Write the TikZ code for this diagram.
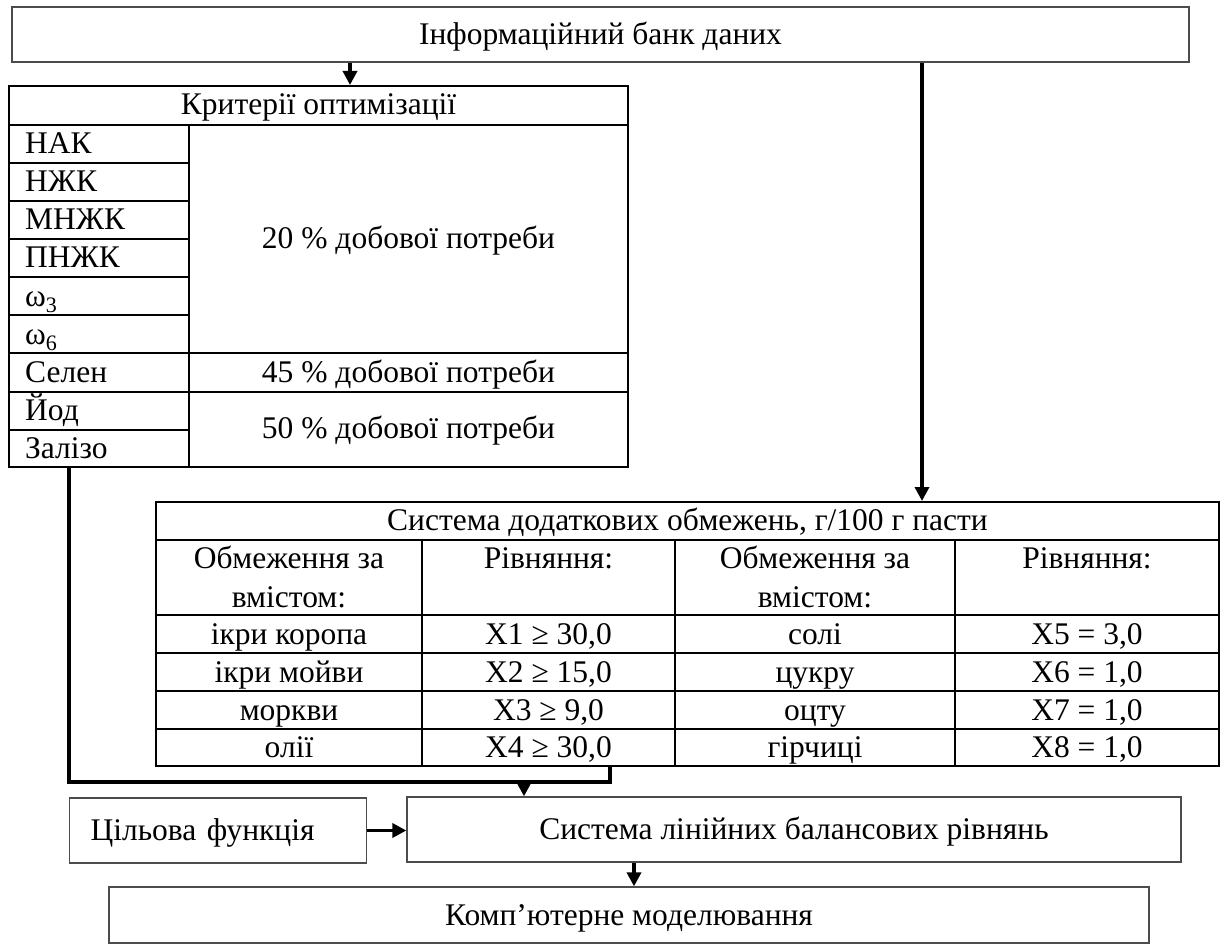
\documentclass[tikz,border=0pt]{standalone}
\usepackage{fontspec}
\setmainfont{Liberation Serif}
\usetikzlibrary{arrows.meta}

\begin{document}
\begin{tikzpicture}[x=1pt, y=-1pt, >={Triangle[length=14pt,width=14pt]},
    font=\fontsize{31.5}{36}\selectfont,
    box/.style={draw=black!70, line width=1.3pt, inner sep=0pt, text height=24pt, text depth=4pt},
    grid/.style={line width=2pt},
    flow/.style={line width=3.4pt},
    cell/.style={anchor=base west, inner sep=0pt},
    mid/.style={anchor=base, inner sep=0pt}]
  \useasboundingbox (0,0) rectangle (1221,944);
  % data bank
  \node[box, minimum width=1177pt, minimum height=55pt] (bank) at (600.5,34.5) {Інформаційний банк даних};
  % criteria table
  \node[draw, grid, minimum width=619pt, minimum height=381pt, inner sep=0pt] (crit) at (318.5,276.5) {};
  \draw[grid] (9,125) -- (628,125);
  \draw[grid] (189,125) -- (189,467);
  \draw[grid] (9,163) -- (189,163) (9,201) -- (189,201) (9,239) -- (189,239);
  \draw[grid] (9,277) -- (189,277) (9,315) -- (189,315) (9,430) -- (189,430);
  \draw[grid] (9,353) -- (628,353) (9,392) -- (628,392);
  \node[mid] (crithead) at (318.5,115) {Критерії оптимізації};
  \node[cell] (nak) at (25,154) {НАК};
  \node[cell] (nzhk) at (25,192) {НЖК};
  \node[cell] (mnzhk) at (25,230) {МНЖК};
  \node[cell] (pnzhk) at (25,268) {ПНЖК};
  \node[cell] (om3) at (25,306) {ω\textsubscript{3}};
  \node[cell] (om6) at (25,344) {ω\textsubscript{6}};
  \node[cell] (selen) at (25,382) {Селен};
  \node[cell] (yod) at (25,420) {Йод};
  \node[cell] (zalizo) at (25,458) {Залізо};
  \node[mid] (p20) at (408.5,248) {20 \% добової потреби};
  \node[mid] (p45) at (408.5,382) {45 \% добової потреби};
  \node[mid] (p50) at (408.5,438) {50 \% добової потреби};
  % additional constraints table
  \node[draw, grid, minimum width=1063pt, minimum height=264pt, inner sep=0pt] (obm) at (687.5,634) {};
  \draw[grid] (156,540) -- (1219,540) (156,615) -- (1219,615);
  \draw[grid] (156,653) -- (1219,653) (156,691) -- (1219,691) (156,729) -- (1219,729);
  \draw[grid] (422,540) -- (422,766) (675,540) -- (675,766) (955,540) -- (955,766);
  \node[mid] (obmhead) at (687.5,530) {Система додаткових обмежень, г/100 г пасти};
  \node[mid] (h1a) at (289,568) {Обмеження за};
  \node[mid] (h1b) at (289,607) {вмістом:};
  \node[mid] (h2) at (548.5,568) {Рівняння:};
  \node[mid] (h3a) at (815,568) {Обмеження за};
  \node[mid] (h3b) at (815,607) {вмістом:};
  \node[mid] (h4) at (1087,568) {Рівняння:};
  \node[mid] (r1a) at (289,644) {ікри коропа};
  \node[mid] (r1b) at (548.5,644) {X1 ≥ 30,0};
  \node[mid] (r1c) at (815,644) {солі};
  \node[mid] (r1d) at (1087,644) {X5 = 3,0};
  \node[mid] (r2a) at (289,682) {ікри мойви};
  \node[mid] (r2b) at (548.5,682) {X2 ≥ 15,0};
  \node[mid] (r2c) at (815,682) {цукру};
  \node[mid] (r2d) at (1087,682) {X6 = 1,0};
  \node[mid] (r3a) at (289,720) {моркви};
  \node[mid] (r3b) at (548.5,720) {X3 ≥ 9,0};
  \node[mid] (r3c) at (815,720) {оцту};
  \node[mid] (r3d) at (1087,720) {X7 = 1,0};
  \node[mid] (r4a) at (289,757) {олії};
  \node[mid] (r4b) at (548.5,757) {X4 ≥ 30,0};
  \node[mid] (r4c) at (815,757) {гірчиці};
  \node[mid] (r4d) at (1087,757) {X8 = 1,0};
  % lower boxes
  \node[box, anchor=west, minimum height=65pt, inner xsep=21pt, text width=255pt, align=left] (ciel) at (69,830.5) {Цільова функція};
  \node[box, minimum width=774pt, minimum height=65pt] (bal) at (794,829.5) {Система лінійних балансових рівнянь};
  \node[box, minimum width=1040pt, minimum height=56pt] (komp) at (629,915) {Комп’ютерне моделювання};
  % connectors
  \coordinate (c1) at (350,0);
  \coordinate (c2) at (922,0);
  \coordinate (c3) at (634,0);
  \coordinate (c4) at (69,0);
  \coordinate (c5) at (610,0);
  \coordinate (jn) at (524,782);
  \draw[flow,->] (c1 |- bank.south) -- (c1 |- crit.north);
  \draw[flow,->] (c2 |- bank.south) -- (c2 |- obm.north);
  \draw[flow] (c4 |- crit.south) |- (jn) -| (c5 |- obm.south);
  \draw[flow,->] (jn) -- (jn |- bal.north);
  \draw[flow,->] (ciel.east) -- (ciel.east -| bal.west);
  \draw[flow,->] (c3 |- bal.south) -- (c3 |- komp.north);
\end{tikzpicture}
\end{document}
